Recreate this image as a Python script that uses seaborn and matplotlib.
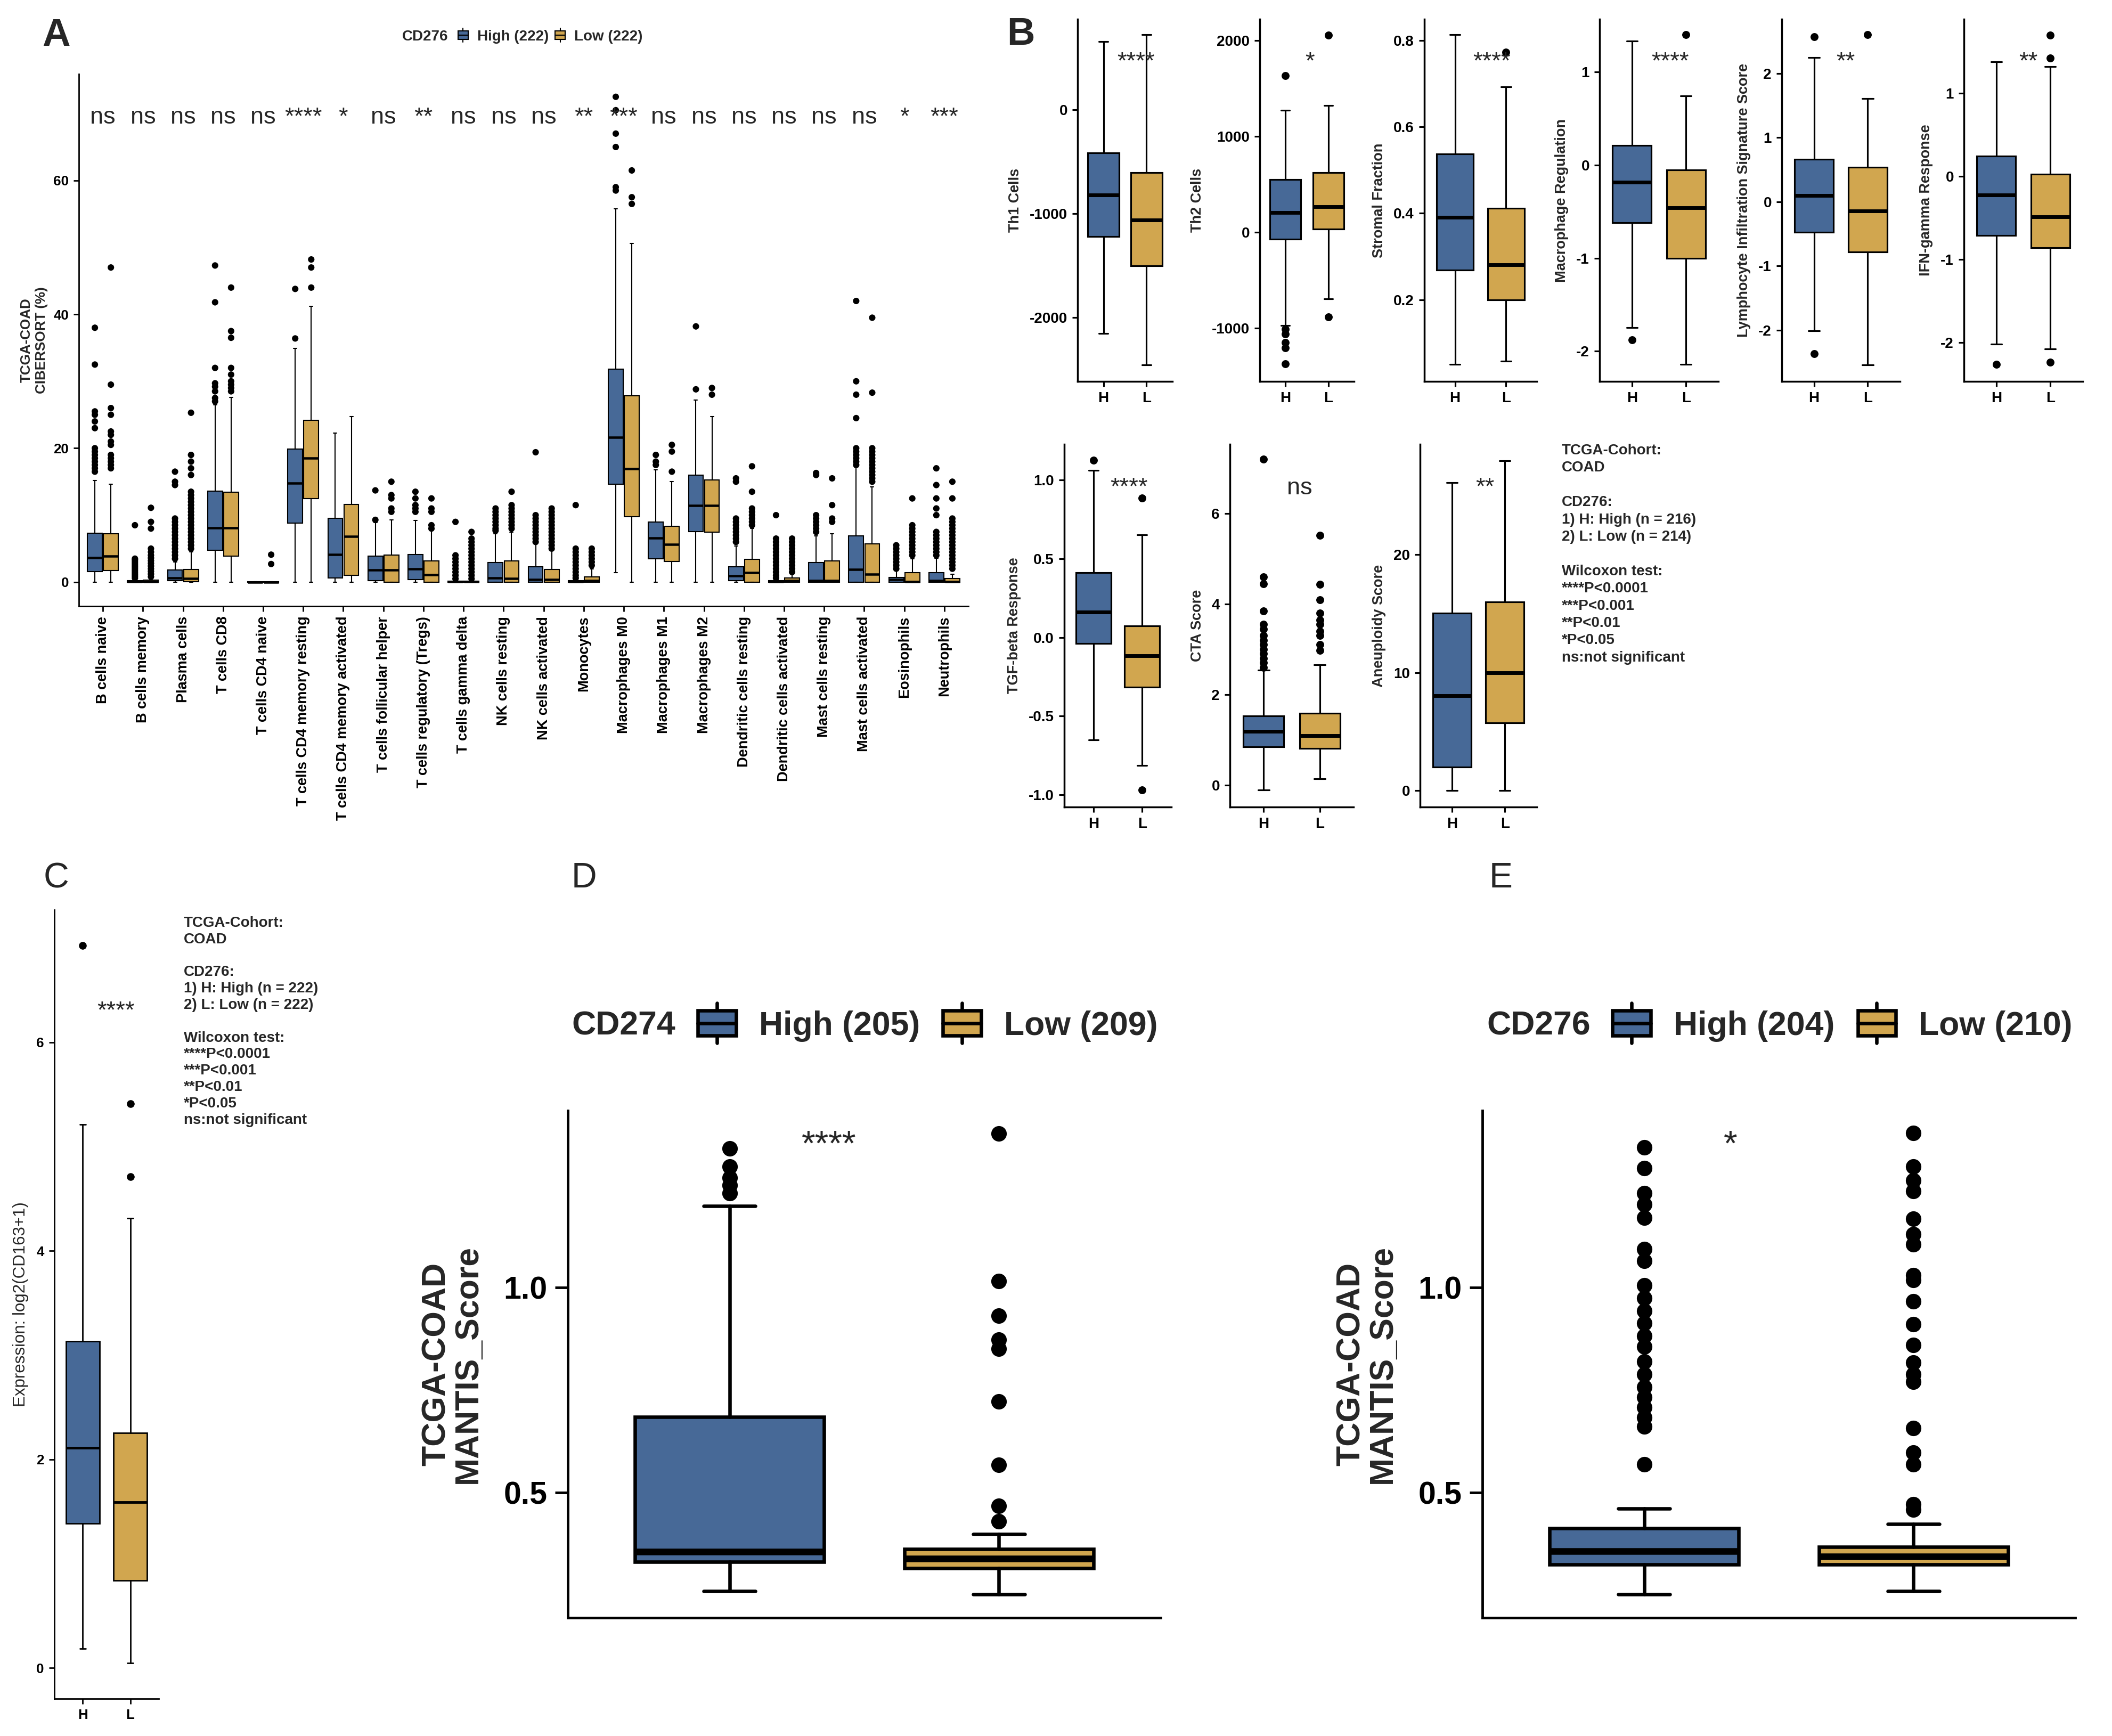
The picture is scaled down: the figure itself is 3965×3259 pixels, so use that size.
import numpy as np
import pandas as pd
import matplotlib
matplotlib.use("Agg")
import matplotlib.pyplot as plt
import seaborn as sns
from matplotlib import font_manager
from matplotlib.legend_handler import HandlerBase
from matplotlib.patches import Rectangle, Patch
from matplotlib.lines import Line2D

# ---------------- panel A : CIBERSORT fractions ----------------
a_cells = ["B cells naive", "B cells memory", "Plasma cells", "T cells CD8", "T cells CD4 naive",
           "T cells CD4 memory resting", "T cells CD4 memory activated", "T cells follicular helper",
           "T cells regulatory (Tregs)", "T cells gamma delta", "NK cells resting", "NK cells activated",
           "Monocytes", "Macrophages M0", "Macrophages M1", "Macrophages M2", "Dendritic cells resting",
           "Dendritic cells activated", "Mast cells resting", "Mast cells activated", "Eosinophils",
           "Neutrophils"]
a_sig = ["ns", "ns", "ns", "ns", "ns", "****", "*", "ns", "**", "ns", "ns",
         "ns", "**", "***", "ns", "ns", "ns", "ns", "ns", "ns", "*", "***"]

a_high_lo = [0, 0, 0, 0, 0, 0, 0, 0, 0, 0, 0, 0, 0, 1.4, 0, 0, 0, 0, 0, 0, 0, 0]
a_high_q1 = [1.6, 0, 0.2, 4.75, 0, 8.8, 0.6, 0.25, 0.4, 0, 0, 0, 0, 14.6, 3.5, 7.55, 0.25, 0, 0, 0, 0, 0]
a_high_med = [3.65, 0.05, 0.6, 8.1, 0, 14.8, 4.1, 1.8, 2.0, 0.05, 0.6, 0.35, 0.05, 21.6, 6.6, 11.45,
              0.9, 0.05, 0.2, 1.9, 0.4, 0.2]
a_high_q3 = [7.3, 0.2, 1.8, 13.6, 0.05, 19.85, 9.55, 3.85, 4.1, 0.15, 2.9, 2.3, 0.2, 31.85, 9.0, 16.0,
             2.3, 0.2, 2.9, 6.9, 0.7, 1.45]
a_high_hi = [15.2, 0.5, 3.0, 26.5, 0.1, 34.9, 22.3, 8.9, 9.2, 0.4, 7.2, 5.7, 0.5, 55.8, 16.8, 27.2,
             5.4, 0.5, 6.9, 17.2, 1.7, 3.6]
a_high_out = [
    [16.5, 17, 17.5, 18, 18.5, 19, 19.5, 20, 23, 24, 25, 25.5, 32.5, 38],
    [0.6, 0.9, 1.2, 1.5, 1.8, 2.1, 2.4, 2.7, 3.0, 3.3, 3.5, 8.5],
    [3.5, 4, 4.5, 5, 5.5, 6, 6.5, 7, 7.5, 8, 8.5, 9, 9.5, 14.5, 15, 16.5],
    [27, 27.5, 28.5, 29.2, 29.7, 32, 41.8, 47.3],
    [],
    [36.4, 43.8],
    [],
    [9.3, 13.7],
    [10.5, 11, 11.5, 12.5, 13.5],
    [0.5, 1, 1.5, 2, 2.5, 3, 3.5, 4, 9],
    [7.7, 8, 8.5, 9, 9.5, 10, 10.5, 11],
    [6, 6.5, 7, 7.5, 8, 8.5, 9, 9.5, 10, 19.4],
    [0.6, 1, 1.5, 2, 2.5, 3, 3.5, 4, 4.5, 5, 11.5],
    [58.5, 59, 65, 67, 70.5, 72.5],
    [17.5, 18, 19],
    [28.8, 38.2],
    [6, 6.5, 7, 7.5, 8, 8.5, 9, 9.5, 15, 15.5],
    [0.6, 1, 1.5, 2, 2.5, 3, 3.5, 4, 4.5, 5, 5.5, 6, 6.5, 10],
    [7.5, 8, 8.5, 9, 9.5, 10, 16, 16.3],
    [17.5, 18, 18.5, 19, 19.5, 20, 24.5, 28, 30, 42],
    [2, 2.5, 3, 3.5, 4, 4.5, 5, 5.5],
    [4, 4.5, 5, 5.5, 6, 6.5, 7, 7.5, 10, 11, 12.5, 14.5, 17],
]

a_low_lo = [0] * 22
a_low_q1 = [1.7, 0, 0.1, 3.85, 0, 12.5, 1.0, 0, 0, 0, 0, 0, 0, 9.8, 3.1, 7.5, 0, 0, 0, 0, 0, 0]
a_low_med = [3.85, 0.05, 0.5, 8.1, 0, 18.5, 6.8, 1.8, 1.1, 0.05, 0.5, 0.35, 0.2, 16.9, 5.6, 11.45,
             1.4, 0.2, 0.2, 1.2, 0.1, 0.1]
a_low_q3 = [7.2, 0.3, 1.9, 13.4, 0.05, 24.2, 11.6, 4.0, 3.2, 0.15, 3.2, 1.9, 0.8, 27.8, 8.3, 15.3,
            3.4, 0.6, 3.2, 5.7, 1.45, 0.5]
a_low_hi = [14.6, 0.7, 4.5, 27.6, 0.1, 41.2, 24.7, 9.3, 7.8, 0.4, 7.5, 4.75, 2.0, 50.6, 15.0, 24.7,
            8.0, 1.5, 7.2, 14.2, 3.5, 1.2]
a_low_out = [
    [17, 17.5, 18, 18.5, 19, 20.5, 21, 22, 22.5, 25, 26, 29.5, 47],
    [0.8, 1.2, 1.6, 2, 2.4, 2.8, 3.2, 3.6, 4, 4.5, 5, 8, 9, 11.1],
    [5, 5.5, 6, 6.5, 7, 7.5, 8, 8.5, 9, 9.5, 10, 10.5, 11, 11.5, 12, 12.5, 13, 13.5, 16, 17, 18, 19, 25.3],
    [28.5, 29, 29.5, 30, 31, 32, 36.5, 37.5, 44],
    [2.7, 4.1],
    [44, 47, 48.2],
    [],
    [10.5, 11, 12.5, 13, 15],
    [8, 8.5, 10.5, 11, 12.5],
    [0.5, 1, 1.5, 2, 2.5, 3, 3.5, 4, 4.5, 5, 5.5, 6, 6.5, 7.5],
    [8, 8.5, 9, 9.5, 10, 10.5, 11, 11.5, 13.5],
    [5, 5.5, 6, 6.5, 7, 7.5, 8, 8.5, 9, 9.5, 10, 10.5, 11],
    [2.5, 3, 3.5, 4, 4.5, 5],
    [56.5, 57.5, 61.5],
    [16.5, 19.5, 20.5],
    [28, 29],
    [8.5, 9, 9.5, 10, 10.5, 11, 13.5, 17.3],
    [1.5, 2, 2.5, 3, 3.5, 4, 4.5, 5, 5.5, 6, 6.5],
    [9, 9.5, 11.5, 15.5],
    [15, 15.5, 16, 16.5, 17, 17.5, 18, 18.5, 19, 19.5, 20, 28.3, 39.5],
    [4, 4.5, 5, 5.5, 6, 6.5, 7, 7.5, 8, 8.5, 12.5],
    [2, 2.5, 3, 3.5, 4, 4.5, 5, 5.5, 6, 6.5, 7, 7.5, 8, 8.5, 9, 9.5, 12.5, 15],
]
a_yticks = [0, 20, 40, 60]

# ---------------- panel B : immune signatures ----------------
b_names = ["Th1 Cells", "Th2 Cells", "Stromal Fraction", "Macrophage Regulation",
           "Lymphocyte Infiltration Signature Score", "IFN-gamma Response",
           "TGF-beta Response", "CTA Score", "Aneuploidy Score"]
b_h_lo = [-2154, -972, 0.050, -1.744, -2.01, -2.02, -0.652, -0.108, 0]
b_h_q1 = [-1221, -72, 0.269, -0.62, -0.478, -0.716, -0.039, 0.842, 2.0]
b_h_med = [-820, 204, 0.390, -0.185, 0.093, -0.226, 0.162, 1.19, 8.06]
b_h_q3 = [-417, 552, 0.537, 0.21, 0.657, 0.24, 0.411, 1.53, 15.04]
b_h_hi = [655, 1274, 0.813, 1.33, 2.25, 1.38, 1.061, 2.54, 26.1]
b_l_lo = [-2455, -694, 0.058, -2.143, -2.54, -2.08, -0.814, 0.137, 0]
b_l_q1 = [-1502, 33, 0.2, -1.0, -0.783, -0.863, -0.316, 0.81, 5.76]
b_l_med = [-1064, 267, 0.281, -0.46, -0.14, -0.49, -0.116, 1.09, 10.0]
b_l_q3 = [-608, 621, 0.411, -0.053, 0.538, 0.026, 0.075, 1.59, 16.0]
b_l_hi = [718, 1322, 0.692, 0.745, 1.61, 1.32, 0.654, 2.66, 27.95]
b_h_out = [[], [1634, -1010, -1060, -1150, -1205, -1374], [], [-1.875], [2.571, -2.37], [-2.263],
           [1.125], [2.6, 2.7, 2.8, 2.9, 3.0, 3.1, 3.2, 3.3, 3.45, 3.55, 3.85, 4.45, 4.6, 7.2], []]
b_l_out = [[], [2055, -883], [0.772], [1.40], [2.60], [1.70, 1.42, -2.24],
           [0.887, -0.970], [2.98, 3.1, 3.3, 3.4, 3.55, 3.65, 3.8, 4.1, 4.44, 5.52], []]
b_sig = ["****", "*", "****", "****", "**", "**", "****", "ns", "**"]
b_sig_x = [0.75, 0.57, 0.72, 0.71, 0.59, 0.59, 0.73, 0.64, 0.62]
b_sig_y = [394, 1708, 0.735, 1.037, 2.076, 1.298, 0.911, 6.42, 25.13]
b_ylims = [(-2614, 869), (-1556, 2222), (0.011, 0.849), (-2.324, 1.566), (-2.80, 2.844),
           (-2.47, 1.89), (-1.078, 1.228), (-0.483, 7.53), (-1.40, 29.37)]
b_yticks = [[-2000, -1000, 0], [-1000, 0, 1000, 2000], [0.2, 0.4, 0.6, 0.8], [-2, -1, 0, 1],
            [-2, -1, 0, 1, 2], [-2, -1, 0, 1], [-1.0, -0.5, 0.0, 0.5, 1.0], [0, 2, 4, 6], [0, 10, 20]]
b_groups = ["H", "L"]
b_note = ("TCGA-Cohort:\nCOAD\n\nCD276:\n1) H: High (n = 216)\n2) L: Low (n = 214)\n\n"
          "Wilcoxon test:\n****P<0.0001\n***P<0.001\n**P<0.01\n*P<0.05\nns:not significant")

# ---------------- panel C : CD163 expression ----------------
c_high = [0.186, 1.385, 2.11, 3.13, 5.21]   # lo, q1, med, q3, hi
c_low = [0.045, 0.838, 1.59, 2.255, 4.31]
c_high_out = [6.93]
c_low_out = [4.71, 5.41]
c_note = ("TCGA-Cohort:\nCOAD\n\nCD276:\n1) H: High (n = 222)\n2) L: Low (n = 222)\n\n"
          "Wilcoxon test:\n****P<0.0001\n***P<0.001\n**P<0.01\n*P<0.05\nns:not significant")

# ---------------- panels D / E : MANTIS score ----------------
d_high = [0.26, 0.331, 0.356, 0.685, 1.2]
d_low = [0.252, 0.316, 0.339, 0.362, 0.399]
d_high_out = [1.23, 1.25, 1.268, 1.295, 1.34]
d_low_out = [0.430, 0.468, 0.568, 0.722, 0.851, 0.873, 0.932, 1.016, 1.376]
d_labels = ["High (205)", "Low (209)"]

e_high = [0.252, 0.325, 0.357, 0.413, 0.461]
e_low = [0.260, 0.325, 0.345, 0.368, 0.424]
e_high_out = [1.342, 1.292, 1.230, 1.203, 1.171, 1.094, 1.066, 1.006, 0.975, 0.944, 0.913, 0.882,
              0.857, 0.820, 0.789, 0.758, 0.733, 0.708, 0.683, 0.661, 0.569]
e_low_out = [1.377, 1.296, 1.262, 1.236, 1.168, 1.131, 1.106, 1.031, 1.019, 0.967, 0.911, 0.860,
             0.817, 0.789, 0.770, 0.658, 0.598, 0.569, 0.472, 0.459]
e_labels = ["High (204)", "Low (210)"]

BLUE = "#476997"
GOLD = "#D1A64F"

# ---------------- style ----------------
sns.set_theme(style="ticks")
avail = {f.name for f in font_manager.fontManager.ttflist}
SANS = "Liberation Sans" if "Liberation Sans" in avail else "DejaVu Sans"
NARROW = "Liberation Sans Narrow" if "Liberation Sans Narrow" in avail else SANS
plt.rcParams["font.family"] = [SANS, "DejaVu Sans"]
plt.rcParams["axes.unicode_minus"] = False

W, H, DPI = 3965, 3259, 250
fig = plt.figure(figsize=(W / DPI, H / DPI), dpi=DPI)
fig.patch.set_facecolor("white")


def rect(l, t, r, b):
    return [l / W, 1 - b / H, (r - l) / W, (b - t) / H]


def fy(y):
    return 1 - y / H


def tick_text(ticks):
    if all(float(t).is_integer() for t in ticks):
        return [str(int(t)) for t in ticks]
    return [f"{t:.1f}" for t in ticks]


def draw_box(ax, positions, lo, q1, med, q3, hi, color, width, capw, lw, mlw):
    stats = [dict(whislo=a, q1=b, med=c, q3=d, whishi=e, fliers=[])
             for a, b, c, d, e in zip(lo, q1, med, q3, hi)]
    ax.bxp(stats, positions=positions, widths=width, capwidths=capw, patch_artist=True,
           showfliers=False, manage_ticks=False,
           boxprops=dict(facecolor=color, edgecolor="black", linewidth=lw),
           whiskerprops=dict(color="black", linewidth=lw),
           capprops=dict(color="black", linewidth=lw),
           medianprops=dict(color="black", linewidth=mlw, solid_capstyle="butt"))


def style_axes(ax, spine_lw, tick_len, tick_w, pad):
    sns.despine(ax=ax)
    for s in ["left", "bottom"]:
        ax.spines[s].set_linewidth(spine_lw)
        ax.spines[s].set_color("black")
    ax.tick_params(axis="both", length=tick_len, width=tick_w, pad=pad, colors="black")
    ax.set_facecolor("white")


def two_group(ax, hs, ls, h_out, l_out, groups, width, capw, lw, mlw, msize):
    draw_box(ax, [0], *[[v] for v in hs], BLUE, width, capw, lw, mlw)
    draw_box(ax, [1], *[[v] for v in ls], GOLD, width, capw, lw, mlw)
    df = pd.DataFrame({"group": [groups[0]] * len(h_out) + [groups[1]] * len(l_out),
                       "value": list(h_out) + list(l_out)})
    if len(df):
        sns.stripplot(data=df, x="group", y="value", order=groups, color="black", jitter=False,
                      size=msize, linewidth=0, ax=ax, zorder=3)
    ax.set_xlim(-0.6, 1.6)
    ax.set_xlabel("")


class BoxKey(HandlerBase):
    def __init__(self, lw=1.0, **kw):
        super().__init__(**kw)
        self.lw = lw

    def create_artists(self, legend, orig_handle, xdescent, ydescent, width, height, fontsize, trans):
        x0, y0 = -xdescent, -ydescent
        cx = x0 + width / 2
        whisk = Line2D([cx, cx], [y0 - 0.3 * height, y0 + 1.3 * height], color="black",
                       lw=self.lw, transform=trans)
        box = Rectangle((x0, y0), width, height, facecolor=orig_handle.get_facecolor(),
                        edgecolor="black", lw=self.lw, transform=trans)
        med = Line2D([x0, x0 + width], [y0 + height / 2] * 2, color="black", lw=self.lw,
                     transform=trans)
        return [whisk, box, med]


def box_legend(title, labels, title_x, key_x, y, fs, hl, hh, tpad, cspace, lw):
    fig.text(title_x / W, fy(y), title, fontsize=fs, fontweight="bold", va="center", ha="left")
    handles = [Patch(facecolor=BLUE), Patch(facecolor=GOLD)]
    fig.legend(handles, labels, loc="center left", bbox_to_anchor=(key_x / W, fy(y)),
               ncol=2, frameon=False, borderpad=0, borderaxespad=0, handlelength=hl,
               handleheight=hh, handletextpad=tpad, columnspacing=cspace,
               prop=dict(size=fs, weight="bold"),
               handler_map={h: BoxKey(lw=lw) for h in handles})


# ---------------- panel A ----------------
ax = fig.add_axes(rect(148, 139, 1818, 1138))
pos = np.arange(len(a_cells))
draw_box(ax, pos - 0.2, a_high_lo, a_high_q1, a_high_med, a_high_q3, a_high_hi, BLUE, 0.37, 0.08, 0.6, 1.3)
draw_box(ax, pos + 0.2, a_low_lo, a_low_q1, a_low_med, a_low_q3, a_low_hi, GOLD, 0.37, 0.08, 0.6, 1.3)
rows = []
for i, cell in enumerate(a_cells):
    rows += [(cell, "High", v) for v in a_high_out[i]]
    rows += [(cell, "Low", v) for v in a_low_out[i]]
df_a = pd.DataFrame(rows, columns=["cell", "group", "value"])
sns.stripplot(data=df_a, x="cell", y="value", hue="group", order=a_cells, hue_order=["High", "Low"],
              dodge=True, jitter=False, palette={"High": "black", "Low": "black"}, size=3.5,
              linewidth=0, legend=False, ax=ax, zorder=3)
for i, s in enumerate(a_sig):
    ax.text(i, 68.5, s, ha="center", va="baseline", fontsize=13)
ax.set_xlim(-0.6, len(a_cells) - 0.4)
ax.set_ylim(-3.6, 75.9)
ax.set_yticks(a_yticks)
ax.set_yticklabels(tick_text(a_yticks), fontsize=7.5, fontweight="bold")
ax.set_xticks(pos)
ax.set_xticklabels(a_cells, rotation=90, ha="center", va="top", fontsize=7.8, fontweight="bold")
ax.set_xlabel("")
ax.set_ylabel("TCGA-COAD\nCIBERSORT (%)", fontsize=7.5, fontweight="bold", labelpad=3)
style_axes(ax, 0.8, 2.9, 0.8, 2.5)
box_legend("CD276", ["High (222)", "Low (222)"], 755, 860, 69, 8, 0.68, 0.54, 0.6, 0.45, 0.6)

# ---------------- panel B ----------------
b_rects = [(2023, 36, 2201, 716), (2365, 36, 2542, 716), (2674, 36, 2885, 716),
           (3003, 36, 3226, 716), (3345, 36, 3567, 716), (3687, 36, 3910, 716),
           (1998, 834, 2199, 1515), (2309, 834, 2541, 1515), (2666, 834, 2885, 1515)]
for k, name in enumerate(b_names):
    ax = fig.add_axes(rect(*b_rects[k]))
    hs = [b_h_lo[k], b_h_q1[k], b_h_med[k], b_h_q3[k], b_h_hi[k]]
    ls = [b_l_lo[k], b_l_q1[k], b_l_med[k], b_l_q3[k], b_l_hi[k]]
    two_group(ax, hs, ls, b_h_out[k], b_l_out[k], b_groups, 0.72, 0.2, 0.9, 2.0, 4.3)
    ax.text(b_sig_x[k], b_sig_y[k], b_sig[k], ha="center", va="baseline", fontsize=13)
    ax.set_ylim(*b_ylims[k])
    ax.set_yticks(b_yticks[k])
    ax.set_yticklabels(tick_text(b_yticks[k]), fontsize=8, fontweight="bold")
    ax.set_xticks([0, 1])
    ax.set_xticklabels(b_groups, fontsize=8, fontweight="bold")
    ax.set_ylabel(name, fontsize=7.8, fontweight="bold", labelpad=4)
    style_axes(ax, 1.0, 3.0, 0.9, 2.5)
fig.text(2932 / W, fy(833), b_note, fontsize=8, fontweight="bold", va="top", ha="left",
         linespacing=1.32)

# ---------------- panel C ----------------
ax = fig.add_axes(rect(102, 1708, 298, 3189))
two_group(ax, c_high, c_low, c_high_out, c_low_out, ["H", "L"], 0.71, 0.12, 0.8, 1.4, 4.2)
ax.text(0.7, 6.235, "****", ha="center", va="baseline", fontsize=13)
ax.set_ylim(-0.295, 7.27)
ax.set_yticks([0, 2, 4, 6])
ax.set_yticklabels(["0", "2", "4", "6"], fontsize=7.5, fontweight="bold")
ax.set_xticks([0, 1])
ax.set_xticklabels(["H", "L"], fontsize=7.5, fontweight="bold")
ax.set_ylabel("Expression: log2(CD163+1)", fontsize=9, family=NARROW, labelpad=4)
style_axes(ax, 0.8, 3.0, 0.8, 2.5)
fig.text(345 / W, fy(1720), c_note, fontsize=8, fontweight="bold", va="top", ha="left",
         linespacing=1.24)

# ---------------- panels D and E ----------------
for (l, r, hs, ls, ho, lo_, labels, title, tx, kx, sx) in [
        (1066, 2179, d_high, d_low, d_high_out, d_low_out, d_labels, "CD274", 1073, 1310, 0.37),
        (2783, 3896, e_high, e_low, e_high_out, e_low_out, e_labels, "CD276", 2791, 3027, 0.32)]:
    ax = fig.add_axes(rect(l, 2085, r, 3037))
    two_group(ax, hs, ls, ho, lo_, ["High", "Low"], 0.70, 0.19, 1.9, 3.6, 8.4)
    ax.text(sx, 1.324, "****" if title == "CD274" else "*", ha="center", va="baseline", fontsize=19)
    ax.set_ylim(0.195, 1.432)
    ax.set_yticks([0.5, 1.0])
    ax.set_yticklabels(["0.5", "1.0"], fontsize=17, fontweight="bold")
    ax.set_xticks([])
    ax.set_ylabel("TCGA-COAD\nMANTIS_Score", fontsize=18, fontweight="bold", labelpad=11,
                  linespacing=1.0)
    style_axes(ax, 1.4, 7, 1.4, 4)
    box_legend(title, labels, tx, kx, 1926, 18, 1.15, 0.77, 0.69, 0.69, 1.9)

# ---------------- panel letters ----------------
fig.text(79 / W, fy(86), "A", fontsize=21, fontweight="bold", va="baseline", ha="left")
fig.text(1890 / W, fy(84), "B", fontsize=21, fontweight="bold", va="baseline", ha="left")
fig.text(82 / W, fy(1666), "C", fontsize=19, va="baseline", ha="left")
fig.text(1073 / W, fy(1666), "D", fontsize=19, va="baseline", ha="left")
fig.text(2796 / W, fy(1666), "E", fontsize=19, va="baseline", ha="left")

fig.savefig("out.png", dpi=DPI)
plt.close(fig)
